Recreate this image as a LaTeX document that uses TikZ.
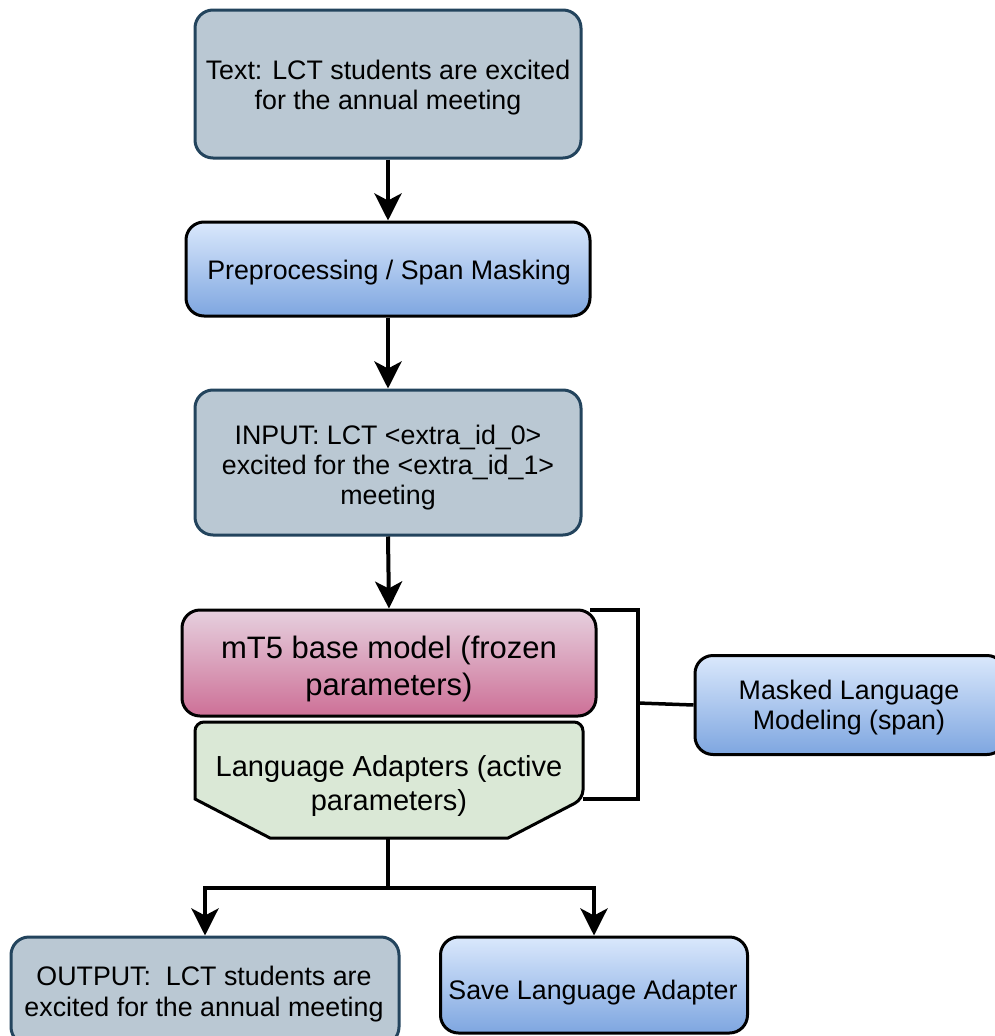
\documentclass[tikz,border=0pt]{standalone}
\usepackage{fontspec}
\setmainfont{Liberation Sans}
\usetikzlibrary{arrows.meta,positioning}

\definecolor{slatefill}{HTML}{BAC8D3}
\definecolor{slateline}{HTML}{23445D}
\definecolor{bluetop}{HTML}{DAE8FC}
\definecolor{bluebot}{HTML}{7EA6E0}
\definecolor{pinktop}{HTML}{E6D0DE}
\definecolor{pinkbot}{HTML}{CD7097}
\definecolor{greenfill}{HTML}{DAE8D6}

\tikzset{
  base/.style={rounded corners=18pt, line width=3pt, inner sep=0pt},
  slatebox/.style={base, draw=slateline, fill=slatefill},
  bluebox/.style={base, draw=black, top color=bluetop, bottom color=bluebot},
  pinkbox/.style={base, draw=black, top color=pinktop, bottom color=pinkbot},
  lbl/.style={align=center, inner sep=0pt, font=\fontsize{26.8}{30}\selectfont},
  biglbl/.style={lbl, font=\fontsize{31}{37}\selectfont},
  flow/.style={line width=4pt, -{Stealth[length=27pt, width=27pt, inset=7pt]}},
  wire/.style={line width=3.5pt}
}

\begin{document}
\begin{tikzpicture}[x=1pt, y=-1pt]
\useasboundingbox (0,0) rectangle (995,1036);

% main column boxes
\node[slatebox, minimum width=386pt, minimum height=148pt] (text) at (388,84) {};
\node[lbl] (textlbl) at (388,88) {Text: LCT students are excited\\for the annual meeting};

\node[bluebox, minimum width=404pt, minimum height=94pt] (prep) at (388,269) {};
\node[lbl] (preplbl) at (389,273) {Preprocessing / Span Masking};

\node[slatebox, minimum width=386pt, minimum height=145pt] (input) at (388,462.5) {};
\node[lbl] (inputlbl) at (388,468)
  {INPUT: LCT <extra\_id\_0>\\excited for the <extra\_id\_1>\\meeting};

\node[pinkbox, minimum width=414pt, minimum height=106pt] (mt5) at (389,663) {};
\node[biglbl] (mt5lbl) at (389,669) {mT5 base model (frozen\\parameters)};

% adapter block with chamfered bottom
\draw[line width=3pt, fill=greenfill, rounded corners=9pt]
  (195,799) -- (195,722) -- (583,722) -- (583,799)
  [sharp corners] -- (508,838) -- (270,838) -- cycle;
\node[lbl, font=\fontsize{29}{34}\selectfont] (adapt) at (389,786)
  {Language Adapters (active\\parameters)};
\coordinate (adaptbot) at (388,838);

% objective box on the right
\node[bluebox, minimum width=310pt, minimum height=99pt] (mlm) at (850,705) {};
\node[lbl] (mlmlbl) at (849,708) {Masked Language\\Modeling (span)};

% outputs
\node[slatebox, minimum width=388pt, minimum height=108pt] (out) at (205,991) {};
\node[lbl, font=\fontsize{26.8}{31}\selectfont] (outlbl) at (204,994)
  {OUTPUT:~ LCT students are\\excited for the annual meeting};
\node[bluebox, minimum width=307pt, minimum height=96pt] (save) at (594,985) {};
\node[lbl] (savelbl) at (593,993) {Save Language Adapter};

% vertical flow
\draw[flow] (text.south) -- (prep.north);
\draw[flow] (prep.south) -- (input.north);
\draw[flow] (input.south) -- (mt5.north);

% bracket joining the model stack to the objective
\coordinate (btop) at (590,610);
\coordinate (bbot) at (583,799);
\coordinate (bmid) at (638,703);
\draw[wire] (btop) -- (638,610) -- (638,799) -- (bbot);
\draw[wire] (bmid) -- (mlm.west);

% split to the two outputs
\coordinate (split) at (388,888);
\draw[line width=4pt] (adaptbot) -- (split);
\draw[flow] (split) -| (out.north);
\draw[flow] (split) -| (save.north);
\end{tikzpicture}
\end{document}
